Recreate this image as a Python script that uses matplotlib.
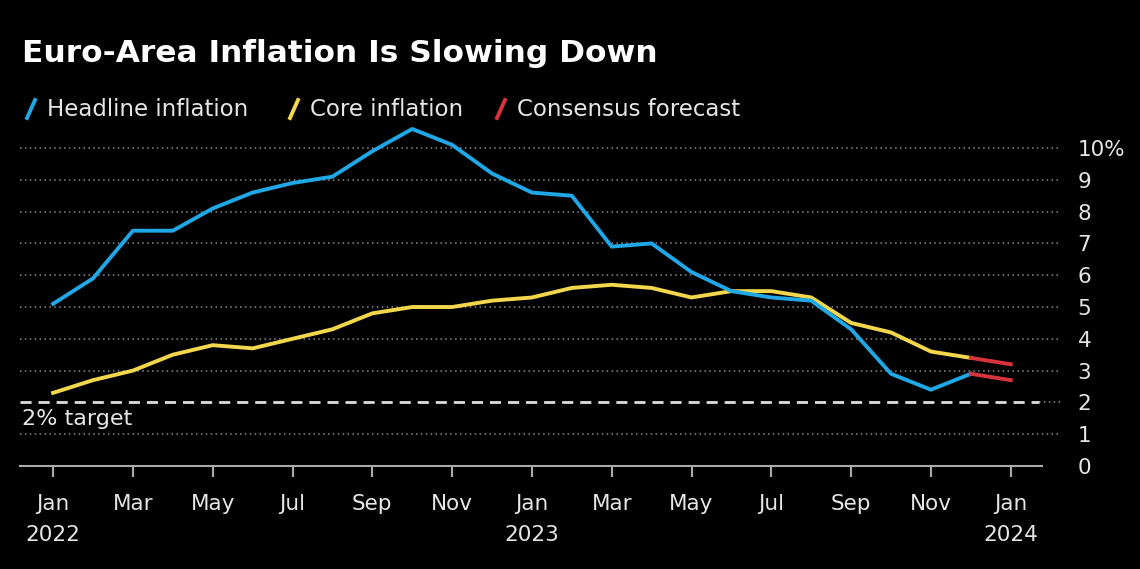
import matplotlib.pyplot as plt
from matplotlib.lines import Line2D

plt.rcParams['font.family'] = ['DejaVu Sans']

# monthly data, Jan 2022 .. Dec 2023
months = list(range(24))
headline = [5.1, 5.9, 7.4, 7.4, 8.1, 8.6, 8.9, 9.1, 9.9, 10.6, 10.1, 9.2,
            8.6, 8.5, 6.9, 7.0, 6.1, 5.5, 5.3, 5.2, 4.3, 2.9, 2.4, 2.9]
core = [2.3, 2.7, 3.0, 3.5, 3.8, 3.7, 4.0, 4.3, 4.8, 5.0, 5.0, 5.2,
        5.3, 5.6, 5.7, 5.6, 5.3, 5.5, 5.5, 5.3, 4.5, 4.2, 3.6, 3.4]
fc_months = [23, 24]
headline_fc = [2.9, 2.7]
core_fc = [3.4, 3.2]
target = 2

tick_pos = list(range(0, 25, 2))
tick_labels = ['Jan\n2022', 'Mar', 'May', 'Jul', 'Sep', 'Nov', 'Jan\n2023',
               'Mar', 'May', 'Jul', 'Sep', 'Nov', 'Jan\n2024']
yticks = list(range(0, 11))
ylabels = [str(v) for v in yticks[:-1]] + ['10%']

blue = '#1fa7e6'
yellow = '#f2d64b'
red = '#d8323c'
txt = '#e6e6e6'

fig = plt.figure(figsize=(11.4, 5.69), dpi=100, facecolor='black')
ax = fig.add_axes([20 / 1140, 1 - 466 / 569, 1041 / 1140, (466 - 122.6) / 569])
ax.set_facecolor('black')

x_left, x_right = -0.83, 25.26
ax.set_xlim(x_left, x_right)
ax.set_ylim(0, 10.8)

for v in yticks[1:]:
    if v == target:
        continue
    ax.axhline(v, color='#8a8a8a', lw=1.1, ls=(0, (1, 2.2)), zorder=1)

ax.plot([x_left, 24.7], [target, target], color='#dddddd', lw=2, ls=(0, (4, 2.5)), zorder=2)
ax.plot([24.7, x_right], [target, target], color='#8a8a8a', lw=1.1, ls=(0, (1, 2.2)), zorder=1)
ax.text(-0.78, 1.78, '2% target', color=txt, fontsize=16, va='top', ha='left')

ax.plot([x_left, 24.79], [0, 0], color='#aaaaaa', lw=1.5, zorder=2, clip_on=False)

ax.plot(months, headline, color=blue, lw=2.8, zorder=4, solid_joinstyle='round')
ax.plot(months, core, color=yellow, lw=2.8, zorder=3, solid_joinstyle='round')
ax.plot(fc_months, headline_fc, color=red, lw=2.8, zorder=4)
ax.plot(fc_months, core_fc, color=red, lw=2.8, zorder=3)

for s in ax.spines.values():
    s.set_visible(False)

ax.set_xticks(tick_pos)
ax.set_xticklabels(tick_labels, color=txt, fontsize=15.5, linespacing=1.7)
ax.tick_params(axis='x', direction='out', length=8, width=1.5, color='#aaaaaa', pad=12)

ax.yaxis.tick_right()
ax.set_yticks(yticks)
ax.set_yticklabels(ylabels, color=txt, fontsize=15.5)
ax.tick_params(axis='y', length=0, pad=12)

fig.text(22 / 1140, 1 - 53 / 569, 'Euro-Area Inflation Is Slowing Down', color='white',
         fontsize=22.5, fontweight='bold', va='center', ha='left')

legend = [('Headline inflation', blue, 27), ('Core inflation', yellow, 290),
          ('Consensus forecast', red, 497)]
ly = 1 - 109 / 569
for label, col, x0 in legend:
    fig.add_artist(Line2D([x0 / 1140, (x0 + 8) / 1140],
                          [1 - 118 / 569, 1 - 100 / 569],
                          color=col, lw=2.8, transform=fig.transFigure))
    fig.text((x0 + 20) / 1140, ly, label, color=txt, fontsize=16.5, va='center', ha='left')

fig.savefig('out.png', dpi=100, facecolor='black')
